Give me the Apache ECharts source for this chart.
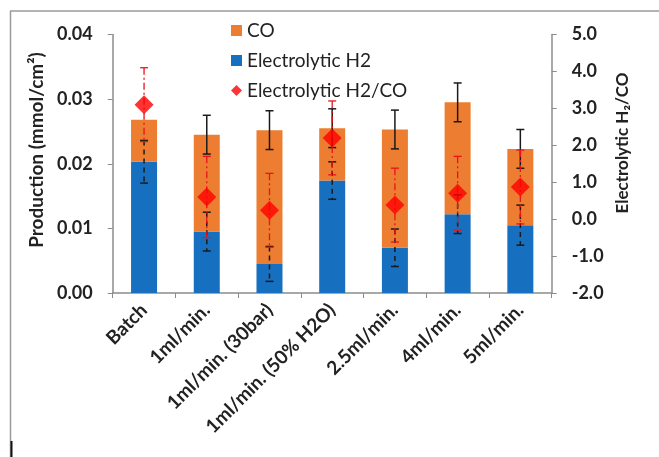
<!DOCTYPE html>
<html><head><meta charset="utf-8">
<script src="https://cdn.jsdelivr.net/npm/echarts@6/dist/echarts.min.js"></script>
<style>html,body{margin:0;padding:0;background:#fff}#c{width:659px;height:457px}</style>
</head><body><div id="c"></div>
<script>
var categories = ['Batch','1ml/min.','1ml/min. (30bar)','1ml/min. (50% H2O)','2.5ml/min.','4ml/min.','5ml/min.'];
var h2Values = [0.0203,0.0095,0.0045,0.0174,0.0070,0.0122,0.0105];
var coValues = [0.0065,0.0150,0.0207,0.0081,0.0183,0.0173,0.0118];
var totalErr = [null,0.0030,0.0030,0.0030,0.0030,0.0030,0.0030];
var h2Err = [0.0033,0.0030,0.0027,0.0029,0.0029,0.0030,0.0031];
var ratioValues = [3.1,0.6,0.24,2.2,0.38,0.7,0.87];
var ratioErr = [1.0,1.1,1.0,1.0,1.0,1.0,1.0];
var leftTicks = {min:0, max:0.04, interval:0.01};
var rightTicks = {min:-2, max:5, interval:1};
var leftTitle = 'Production (mmol/cm²)';
var rightTitle = 'Electrolytic H₂/CO';

var FONT = 'Lato';
function errData(center, err){
  var d = [];
  for (var i=0;i<center.length;i++){
    if (err[i]==null) continue;
    d.push([i, center[i]-err[i], center[i]+err[i]]);
  }
  return d;
}
var totals = h2Values.map(function(v,i){return v+coValues[i];});
function errRender(color, dash, width){
  return function(params, api){
    var x = api.value(0);
    var lo = api.coord([x, api.value(1)]);
    var hi = api.coord([x, api.value(2)]);
    var hw = 4;
    var st = {stroke:color, lineWidth:width, fill:null};
    var stDash = {stroke:color, lineWidth:width, fill:null, lineDash:dash};
    return {type:'group', children:[
      {type:'line', shape:{x1:hi[0],y1:hi[1],x2:lo[0],y2:lo[1]}, style:stDash},
      {type:'line', shape:{x1:hi[0]-hw,y1:hi[1],x2:hi[0]+hw,y2:hi[1]}, style:st},
      {type:'line', shape:{x1:lo[0]-hw,y1:lo[1],x2:lo[0]+hw,y2:lo[1]}, style:st}
    ]};
  };
}
var chart = echarts.init(document.getElementById('c'));
chart.setOption({
  animation:false,
  backgroundColor:'#fff',
  textStyle:{fontFamily:FONT},
  graphic:[
    {type:'line', shape:{x1:10,y1:11,x2:659,y2:11}, style:{stroke:'#9a9a9a', lineWidth:1.5}},
    {type:'line', shape:{x1:10.5,y1:11,x2:10.5,y2:457}, style:{stroke:'#9a9a9a', lineWidth:1.5}},
    {type:'line', shape:{x1:11.5,y1:441,x2:11.5,y2:457}, style:{stroke:'#111', lineWidth:2}},
    {type:'text', x:37, y:150, rotation:Math.PI/2,
     style:{text:leftTitle, font:'bold 19px Lato', fill:'#222', align:'center', verticalAlign:'middle'}},
    {type:'text', x:623, y:143, rotation:Math.PI/2,
     style:{text:rightTitle, font:'bold 17px Lato', fill:'#222', align:'center', verticalAlign:'middle'}}
  ],
  legend:{
    orient:'vertical', left:226, top:16, itemGap:11,
    itemWidth:11, itemHeight:11,
    data:[{name:'CO', icon:'rect'},{name:'Electrolytic H2', icon:'rect'},{name:'Electrolytic H2/CO', icon:'diamond'}],
    textStyle:{fontSize:19, color:'#222', fontFamily:FONT, lineHeight:19}
  },
  grid:{left:112.7, right:107.3, top:34.5, bottom:164, containLabel:false},
  xAxis:{
    type:'category', data:categories,
    axisLine:{lineStyle:{color:'#8c8c8c', width:1.5}},
    axisTick:{show:true, length:5, lineStyle:{color:'#8c8c8c'}},
    axisLabel:{interval:0, rotate:45, fontSize:19, fontWeight:'bold', color:'#222', margin:14}
  },
  yAxis:[
    {type:'value', min:leftTicks.min, max:leftTicks.max, interval:leftTicks.interval,
     axisLine:{show:true, lineStyle:{color:'#8c8c8c', width:1.5}},
     axisTick:{show:true, length:5, lineStyle:{color:'#8c8c8c'}},
     splitLine:{show:false},
     axisLabel:{fontSize:18, fontWeight:'bold', color:'#222', margin:20, formatter:function(v){return v.toFixed(2);}}},
    {type:'value', min:rightTicks.min, max:rightTicks.max, interval:rightTicks.interval, position:'right',
     axisLine:{show:true, lineStyle:{color:'#8c8c8c', width:1.5}},
     axisTick:{show:true, length:5, lineStyle:{color:'#8c8c8c'}},
     splitLine:{show:false},
     axisLabel:{fontSize:18, fontWeight:'bold', color:'#222', margin:20, formatter:function(v){return v.toFixed(1);}}}
  ],
  series:[
    {name:'Electrolytic H2', type:'bar', stack:'p', data:h2Values, barWidth:26, itemStyle:{color:'#1670BF'}, z:2},
    {name:'CO', type:'bar', stack:'p', data:coValues, barWidth:26, itemStyle:{color:'#ED7D31'}, z:2},
    {name:'totErr', type:'custom', data:errData(totals,totalErr), renderItem:errRender('#1a1a1a',null,1.5), encode:{x:0,y:[1,2]}, z:3, silent:true},
    {name:'h2Err', type:'custom', data:errData(h2Values,h2Err), renderItem:errRender('#1a1a1a',[5,4],1.5), encode:{x:0,y:[1,2]}, z:3, silent:true},
    {name:'ratioErr', type:'custom', yAxisIndex:1, data:errData(ratioValues,ratioErr), renderItem:errRender('#e8141a',[7,3,2,3],1.3), encode:{x:0,y:[1,2]}, z:4, silent:true},
    {name:'Electrolytic H2/CO', type:'scatter', yAxisIndex:1, data:ratioValues, symbol:'diamond', symbolSize:19, itemStyle:{color:'#FF0000'}, z:5}
  ]
});
</script></body></html>
